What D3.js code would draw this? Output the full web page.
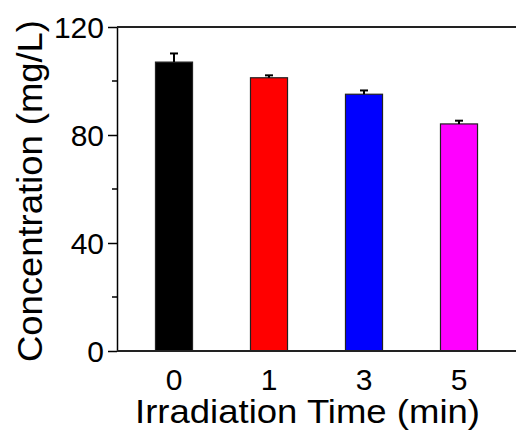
<!DOCTYPE html>
<html>
<head>
<meta charset="utf-8">
<script src="https://cdn.jsdelivr.net/npm/d3@7"></script>
<style>
  html, body { margin: 0; padding: 0; background: #fff; }
  svg { display: block; }
  text { font-family: "Liberation Sans", Arial, sans-serif; fill: #000; }
</style>
</head>
<body>
<svg id="chart" width="516" height="437"></svg>
<script>
// Irradiation time categories (min)
const categories = ["0", "1", "3", "5"];
// Mean concentration (mg/L) and upper error
const concentration = [107.0, 101.2, 95.1, 84.1];
const errors = [3.2, 0.9, 1.4, 1.2];
const barColors = ["#000000", "#ff0000", "#0000ff", "#ff00ff"];
const yMajorTicks = [0, 40, 80, 120];
const yMinorTicks = [20, 60, 100];

const svg = d3.select("#chart");
const plotLeft = 117, plotRight = 516, plotTop = 27, plotBottom = 351;

const x = d3.scaleBand()
  .domain(categories)
  .range([plotLeft, plotRight])
  .paddingInner(0.61)
  .paddingOuter(0.405);

const y = d3.scaleLinear().domain([0, 120]).range([plotBottom, plotTop]);

// Bars
svg.append("g").selectAll("rect")
  .data(categories)
  .join("rect")
  .attr("x", d => x(d))
  .attr("y", (d, i) => y(concentration[i]))
  .attr("width", x.bandwidth())
  .attr("height", (d, i) => y(0) - y(concentration[i]))
  .attr("fill", (d, i) => barColors[i])
  .attr("stroke", "#222")
  .attr("stroke-width", 1.2);

// Upper error bars
const eb = svg.append("g").attr("stroke", "#000").attr("stroke-width", 2);
categories.forEach((d, i) => {
  const cx = x(d) + x.bandwidth() / 2;
  eb.append("line")
    .attr("x1", cx).attr("x2", cx)
    .attr("y1", y(concentration[i])).attr("y2", y(concentration[i] + errors[i]));
  eb.append("line")
    .attr("x1", cx - 4).attr("x2", cx + 4)
    .attr("y1", y(concentration[i] + errors[i])).attr("y2", y(concentration[i] + errors[i]));
});

// Left axis with outward major ticks
const yAxis = d3.axisLeft(y)
  .tickValues(yMajorTicks)
  .tickSize(9)
  .tickPadding(4)
  .tickSizeOuter(0);
const gy = svg.append("g").attr("transform", `translate(${plotLeft},0)`).call(yAxis);
gy.select(".domain").attr("stroke", "#000").attr("stroke-width", 1.5);
gy.selectAll(".tick line").attr("stroke", "#000").attr("stroke-width", 1.5);
gy.selectAll(".tick text")
  .attr("font-size", 30)
  .attr("font-family", "Liberation Sans, Arial, sans-serif")
  .attr("dy", "0.34em");

// Minor ticks
svg.append("g").selectAll("line")
  .data(yMinorTicks)
  .join("line")
  .attr("x1", plotLeft - 5).attr("x2", plotLeft)
  .attr("y1", d => y(d)).attr("y2", d => y(d))
  .attr("stroke", "#000").attr("stroke-width", 1.5);

// Bottom and top frame lines
svg.append("line")
  .attr("x1", plotLeft).attr("x2", plotRight)
  .attr("y1", y(0)).attr("y2", y(0))
  .attr("stroke", "#222").attr("stroke-width", 2);
svg.append("line")
  .attr("x1", plotLeft).attr("x2", plotRight)
  .attr("y1", y(120)).attr("y2", y(120))
  .attr("stroke", "#222").attr("stroke-width", 2);

// Category labels under the bars
const xAxis = d3.axisBottom(x).tickSize(0).tickPadding(0);
const gx = svg.append("g").attr("transform", `translate(0,${plotBottom})`).call(xAxis);
gx.select(".domain").remove();
gx.selectAll(".tick text")
  .attr("font-size", 30)
  .attr("font-family", "Liberation Sans, Arial, sans-serif")
  .attr("dy", null)
  .attr("y", 39);

// Axis titles
svg.append("text")
  .attr("x", 307.5).attr("y", 423)
  .attr("text-anchor", "middle")
  .attr("font-size", 33)
  .attr("textLength", 345)
  .attr("lengthAdjust", "spacingAndGlyphs")
  .text("Irradiation Time (min)");

svg.append("text")
  .attr("transform", "translate(42,191) rotate(-90)")
  .attr("text-anchor", "middle")
  .attr("font-size", 35)
  .attr("textLength", 342)
  .attr("lengthAdjust", "spacingAndGlyphs")
  .text("Concentration (mg/L)");
</script>
</body>
</html>
